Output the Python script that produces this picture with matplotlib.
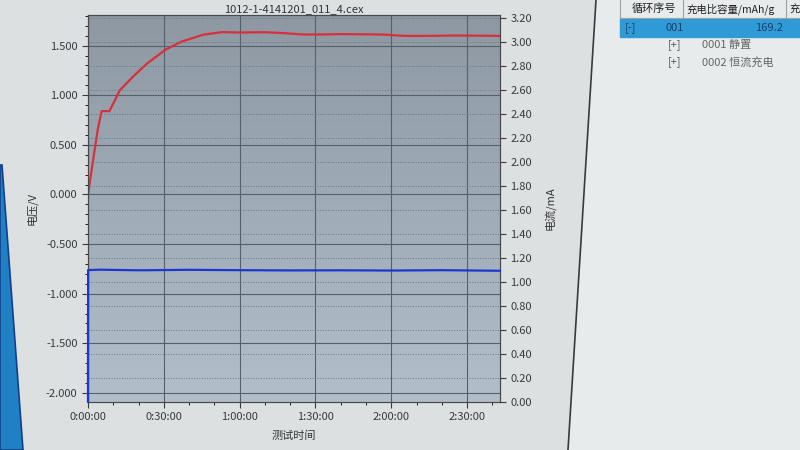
import numpy as np
import matplotlib
matplotlib.use('Agg')
from matplotlib import pyplot as plt
from matplotlib.colors import LinearSegmentedColormap
from matplotlib.ticker import FuncFormatter, MultipleLocator
from matplotlib.lines import Line2D
from matplotlib.patches import Rectangle, Polygon

plt.rcParams['font.family'] = ['Noto Sans CJK SC', 'DejaVu Sans']

# voltage curve (red), time in minutes
volt_t = [0, 2.4, 3.9, 5.4, 8.5, 12.6, 17.9, 23.4, 30.7, 37, 45.6, 53, 60, 70,
          78, 85, 92, 100, 110, 118, 125, 135, 145, 155, 163]
volt_v = [0.0, 0.41, 0.66, 0.84, 0.84, 1.05, 1.19, 1.32, 1.46, 1.54, 1.61, 1.636,
          1.632, 1.635, 1.625, 1.612, 1.612, 1.616, 1.614, 1.61, 1.598, 1.598,
          1.602, 1.600, 1.598]

# current curve (blue), time in minutes
cur_t = [0, 0.05, 5, 20, 40, 60, 80, 100, 120, 140, 163]
cur_i = [0.0, 1.10, 1.103, 1.098, 1.102, 1.099, 1.097, 1.098, 1.096, 1.099, 1.094]

title = '1012-1-4141201_011_4.cex'
x_ticks_min = [0, 30, 60, 90, 120, 150]
t_max = 163

table_header = ['循环序号', '充电比容量/mAh/g', '充']
table_rows = [('[-]', '001', '169.2'), ('[+]', '0001 静置', ''), ('[+]', '0002 恒流充电', '')]

fig = plt.figure(figsize=(8, 4.5), dpi=100)
fig.patch.set_facecolor('#dde0e1')

# screen edge on the left of the photo
fig.add_artist(Polygon([(0, 1 - 165 / 450), (2 / 800, 1 - 165 / 450), (23 / 800, 0), (0, 0)],
                       closed=True, facecolor='#1f80c4', edgecolor='#123f8a', lw=1.2))

ax1 = fig.add_axes([0.11, 0.107, 0.515, 0.86])
ax2 = ax1.twinx()

# plot background gradient
cmap = LinearSegmentedColormap.from_list('bg', ['#b2bfca', '#8d98a3'])
ax1.imshow(np.linspace(0, 1, 256).reshape(-1, 1), cmap=cmap, origin='lower',
           extent=[0, t_max * 60, -2.09, 1.81], aspect='auto', zorder=0)

ts = np.array(volt_t) * 60
ax1.plot(ts, volt_v, color='#d8303a', lw=1.6, zorder=3)
ax2.plot(np.array(cur_t) * 60, cur_i, color='#1c38d0', lw=1.6, zorder=3, clip_on=False)

ax1.set_xlim(0, t_max * 60)
ax1.set_ylim(-2.09, 1.81)
ax2.set_ylim(0, 3.23)

ax1.set_xticks([m * 60 for m in x_ticks_min])
ax1.xaxis.set_minor_locator(MultipleLocator(600))
ax1.xaxis.set_major_formatter(FuncFormatter(
    lambda s, p: '%d:%02d:%02d' % (s // 3600, (s % 3600) // 60, s % 60)))
ax1.yaxis.set_major_locator(MultipleLocator(0.5))
ax1.yaxis.set_minor_locator(MultipleLocator(0.1))
ax1.yaxis.set_major_formatter(FuncFormatter(lambda v, p: '%.3f' % v))
ax2.yaxis.set_major_locator(MultipleLocator(0.2))
ax2.yaxis.set_major_formatter(FuncFormatter(lambda v, p: '%.2f' % v))

ax1.grid(True, which='major', color='#56606a', lw=0.8, zorder=1)
ax2.grid(True, axis='y', which='major', color='#6a7580', lw=0.7, ls=':')

for ax in (ax1, ax2):
    ax.tick_params(labelsize=8, colors='#3a3a3a', length=4)
    ax.tick_params(which='minor', length=2)
    for sp in ax.spines.values():
        sp.set_color('#4a4a4a')

ax1.set_ylabel('电压/V', fontsize=8, color='#333333', labelpad=6)
ax2.set_ylabel('电流/mA', fontsize=8, color='#333333', labelpad=8)
ax1.set_xlabel('测试时间', fontsize=8, color='#333333', labelpad=6)
ax1.set_title(title, fontsize=8, color='#333333', pad=2)

# side panel (data table)
fig.add_artist(Polygon([(596 / 800, 1), (1, 1), (1, 0), (568 / 800, 0)],
                       closed=True, color='#e8ebeb', lw=0, zorder=-1))
fig.add_artist(Line2D([596 / 800, 568 / 800], [1, 0], color='#3a3a3a', lw=1.2))
fig.add_artist(Line2D([620 / 800, 1], [1 - 18 / 450] * 2, color='#9aa0a4', lw=0.8))
for xs in (620, 683, 786):
    fig.add_artist(Line2D([xs / 800] * 2, [1, 1 - 18 / 450], color='#9aa0a4', lw=0.8))
fig.text(632 / 800, 1 - 9 / 450, table_header[0], fontsize=8, color='#222222', va='center')
fig.text(686 / 800, 1 - 9 / 450, table_header[1], fontsize=7.5, color='#222222', va='center')
fig.text(789 / 800, 1 - 9 / 450, table_header[2], fontsize=7.5, color='#222222', va='center')
fig.add_artist(Rectangle((620 / 800, 1 - 37 / 450), 180 / 800, 18 / 450, color='#2f9bd6'))
fig.text(625 / 800, 1 - 28 / 450, table_rows[0][0], fontsize=8, color='#1d3d6d', va='center')
fig.text(665 / 800, 1 - 28 / 450, table_rows[0][1], fontsize=8, color='#1d3d6d', va='center')
fig.text(755 / 800, 1 - 28 / 450, table_rows[0][2], fontsize=8, color='#1d3d6d', va='center')
for k, (a, b, c) in enumerate(table_rows[1:]):
    y = 1 - (45 + 17 * k) / 450
    fig.text(668 / 800, y, a, fontsize=8, color='#555555', va='center')
    fig.text(702 / 800, y, b, fontsize=8, color='#666666', va='center')

plt.savefig('out.png', dpi=100, facecolor=fig.get_facecolor())
plt.close()
